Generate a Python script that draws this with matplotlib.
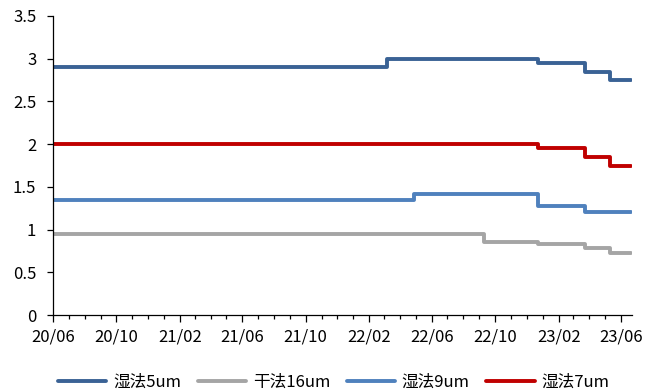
import matplotlib
matplotlib.use("Agg")
import matplotlib.pyplot as plt
import matplotlib.dates as mdates
import pandas as pd

plt.rcParams["font.family"] = ["Noto Sans CJK SC", "DejaVu Sans"]

# Points de changement (dates) et niveaux de chaque série
dates_5um = ["2020-06-01", "2022-03-07", "2022-12-22", "2023-03-23", "2023-05-10", "2023-06-21"]
vals_5um = [2.90, 3.00, 2.95, 2.85, 2.75, 2.75]

dates_16um = ["2020-06-01", "2022-09-09", "2022-12-22", "2023-03-23", "2023-05-10", "2023-06-21"]
vals_16um = [0.95, 0.85, 0.83, 0.78, 0.73, 0.73]

dates_9um = ["2020-06-01", "2022-04-28", "2022-12-22", "2023-03-23", "2023-06-21"]
vals_9um = [1.35, 1.42, 1.28, 1.20, 1.20]

dates_7um = ["2020-06-01", "2022-12-22", "2023-03-23", "2023-05-10", "2023-06-21"]
vals_7um = [2.00, 1.95, 1.85, 1.75, 1.75]

series = [
    ("湿法5um", dates_5um, vals_5um, "#3A6295"),
    ("干法16um", dates_16um, vals_16um, "#A5A5A5"),
    ("湿法9um", dates_9um, vals_9um, "#4F81BD"),
    ("湿法7um", dates_7um, vals_7um, "#C00000"),
]

fig = plt.figure(figsize=(6.61, 3.92), dpi=100)
ax = fig.add_axes([53 / 661, 1 - 315 / 392, (632 - 53) / 661, (315 - 16) / 392])

for nom, d, v, c in series:
    ax.plot(pd.to_datetime(d), v, drawstyle="steps-post", color=c, lw=2.8,
            label=nom, solid_capstyle="round", solid_joinstyle="round")

ax.set_xlim(pd.Timestamp("2020-06-01"), pd.Timestamp("2023-06-22"))
ax.set_ylim(0, 3.5)
ax.set_yticks([0, 0.5, 1, 1.5, 2, 2.5, 3, 3.5])
ax.set_yticklabels(["0", "0.5", "1", "1.5", "2", "2.5", "3", "3.5"])

ax.xaxis.set_major_locator(mdates.MonthLocator(bymonth=[2, 6, 10]))
ax.xaxis.set_major_formatter(mdates.DateFormatter("%y/%m"))
ax.xaxis.set_minor_locator(mdates.MonthLocator())

for s in ["top", "right"]:
    ax.spines[s].set_visible(False)
for s in ["left", "bottom"]:
    ax.spines[s].set_linewidth(0.9)
    ax.spines[s].set_color("black")

ax.tick_params(axis="both", labelsize=12, colors="black", width=0.9)
ax.tick_params(axis="x", which="major", length=5, pad=5)
ax.tick_params(axis="x", which="minor", length=3, width=0.9)
ax.tick_params(axis="y", length=4, pad=8)

fig.legend(loc="center", bbox_to_anchor=(0.505, 1 - 382 / 392), ncol=4,
           frameon=False, fontsize=12, handlelength=2.9, handletextpad=0.4,
           columnspacing=1.0)

fig.savefig("out.png", dpi=100)
